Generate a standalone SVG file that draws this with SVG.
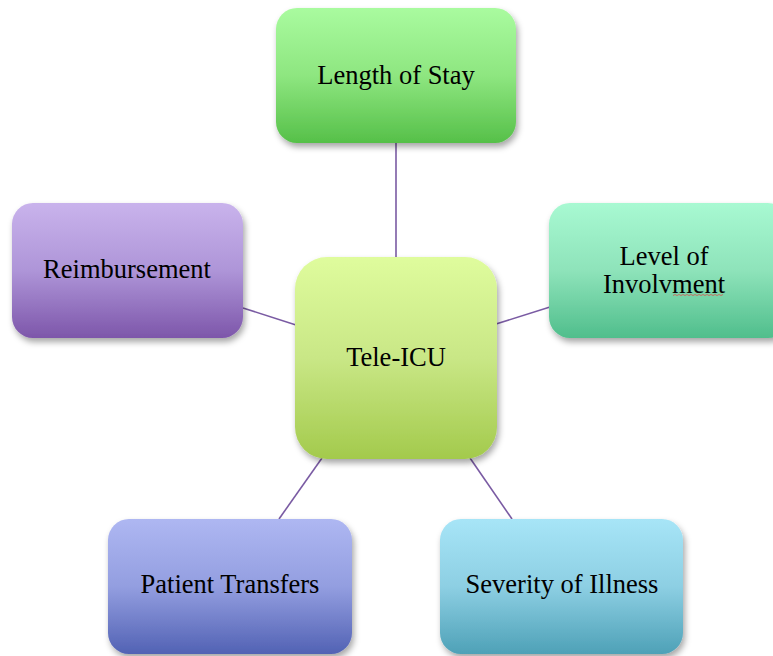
<svg xmlns="http://www.w3.org/2000/svg" width="773" height="656" viewBox="0 0 773 656">
<style>
  .lbl { font-family: "Liberation Serif", "Times New Roman", serif; font-size: 26.5px; fill: #000; text-anchor: middle; }
  .conn line { stroke: #7A5BA3; stroke-width: 1.6; }
  .box { filter: url(#sh); }
</style>
<defs>
  <filter id="sh" x="-10%" y="-10%" width="125%" height="130%">
    <feDropShadow dx="2" dy="4" stdDeviation="3" flood-color="#000" flood-opacity="0.35"/>
  </filter>
  <linearGradient id="gLen" x1="0" y1="0" x2="0" y2="1"><stop offset="0" stop-color="#A9FB9F"/><stop offset="0.5" stop-color="#8EE680"/><stop offset="1" stop-color="#56C049"/></linearGradient>
  <linearGradient id="gTele" x1="0" y1="0" x2="0" y2="1"><stop offset="0" stop-color="#DFFC9D"/><stop offset="0.5" stop-color="#C9E786"/><stop offset="1" stop-color="#A3CA4C"/></linearGradient>
  <linearGradient id="gLev" x1="0" y1="0" x2="0" y2="1"><stop offset="0" stop-color="#A8F9D2"/><stop offset="0.5" stop-color="#8EE3BA"/><stop offset="1" stop-color="#50BE8C"/></linearGradient>
  <linearGradient id="gReim" x1="0" y1="0" x2="0" y2="1"><stop offset="0" stop-color="#C9B3EC"/><stop offset="0.5" stop-color="#AE95D8"/><stop offset="1" stop-color="#7D56AA"/></linearGradient>
  <linearGradient id="gPat" x1="0" y1="0" x2="0" y2="1"><stop offset="0" stop-color="#AEB7F2"/><stop offset="0.5" stop-color="#939EE0"/><stop offset="1" stop-color="#5262B4"/></linearGradient>
  <linearGradient id="gSev" x1="0" y1="0" x2="0" y2="1"><stop offset="0" stop-color="#A7E5F7"/><stop offset="0.5" stop-color="#8DCFE3"/><stop offset="1" stop-color="#4EA1B7"/></linearGradient>
</defs>
<rect width="773" height="656" fill="#fff"/>
<g id="connectors" class="conn">
  <line x1="396" y1="143" x2="396" y2="258"/>
  <line x1="243" y1="308" x2="296" y2="325"/>
  <line x1="496" y1="324" x2="550" y2="307"/>
  <line x1="322" y1="458" x2="279" y2="519"/>
  <line x1="470" y1="458" x2="512" y2="519"/>
</g>
<g id="length-of-stay">
  <rect class="box" x="276" y="8" width="240" height="135" rx="21" fill="url(#gLen)"/>
  <text class="lbl" x="396" y="84">Length of Stay</text>
</g>
<g id="tele-icu">
  <rect class="box" x="295" y="257" width="202" height="202" rx="32" fill="url(#gTele)"/>
  <text class="lbl" x="396" y="366">Tele-ICU</text>
</g>
<g id="level-of-involvment">
  <rect class="box" x="549" y="203" width="240" height="135" rx="21" fill="url(#gLev)"/>
  <text class="lbl" x="664" y="265">Level of</text>
  <text class="lbl" x="664" y="293">Involvment</text>
  <path d="M673 295.5 l2 -1 2 1 2 -1 2 1 2 -1 2 1 2 -1 2 1 2 -1 2 1 2 -1 2 1 2 -1 2 1 2 -1 2 1 2 -1 2 1 2 -1 2 1 2 -1 2 1 2 -1 2 1 2 -1" fill="none" stroke="#D9534F" stroke-width="0.8"/>
</g>
<g id="reimbursement">
  <rect class="box" x="12" y="203" width="231" height="135" rx="21" fill="url(#gReim)"/>
  <text class="lbl" x="127" y="278">Reimbursement</text>
</g>
<g id="patient-transfers">
  <rect class="box" x="108" y="519" width="244" height="135" rx="21" fill="url(#gPat)"/>
  <text class="lbl" x="230" y="593">Patient Transfers</text>
</g>
<g id="severity-of-illness">
  <rect class="box" x="440" y="519" width="243" height="135" rx="21" fill="url(#gSev)"/>
  <text class="lbl" x="562" y="593">Severity of Illness</text>
</g>
</svg>
